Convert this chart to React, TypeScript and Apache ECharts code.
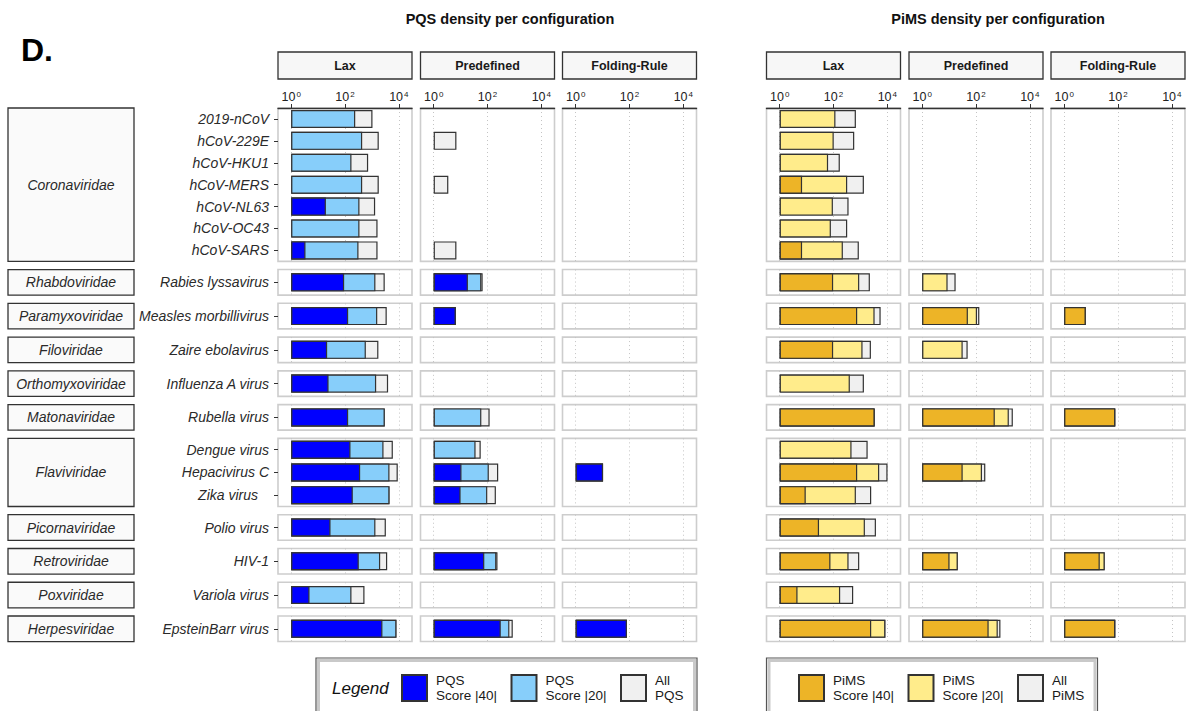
import React, { useEffect, useRef } from 'react';
import * as echarts from 'echarts';

// ---- data ----------------------------------------------------------------
const FAMILIES = [
  'Coronaviridae', 'Rhabdoviridae', 'Paramyxoviridae', 'Filoviridae', 'Orthomyxoviridae',
  'Matonaviridae', 'Flaviviridae', 'Picornaviridae', 'Retroviridae', 'Poxviridae', 'Herpesviridae',
];
const FAMILY_SIZES = [7, 1, 1, 1, 1, 1, 3, 1, 1, 1, 1];
const VIRUSES = [
  '2019-nCoV', 'hCoV-229E', 'hCoV-HKU1', 'hCoV-MERS', 'hCoV-NL63', 'hCoV-OC43', 'hCoV-SARS',
  'Rabies lyssavirus', 'Measles morbillivirus', 'Zaire ebolavirus', 'Influenza A virus',
  'Rubella virus', 'Dengue virus', 'Hepacivirus C', 'Zika virus', 'Polio virus', 'HIV-1',
  'Variola virus', 'EpsteinBarr virus',
];
const CONFIGS = ['Lax', 'Predefined', 'Folding-Rule'];
const TICK_VALUES = [1, 100, 10000];

// PQS density, one value per virus (null = none found)
const pqsLaxAll = [1050, 1800, 725, 1800, 1320, 1620, 1620, 3000, 3560, 1740, 4000, 3000, 6000, 9150, 4500, 3300, 3700, 530, 8150];
const pqsLax20 = [240, 435, 174, 435, 345, 345, 317, 1350, 1580, 595, 1440, 3000, 2700, 4500, 4500, 1350, 2030, 174, 8150];
const pqsLax40 = [null, null, null, null, 19.5, null, 3.4, 93, 131, 21.7, 24.5, 131, 160, 366, 195, 29, 325, 4.8, 2460];

const pqsPreAll = [null, 7, null, 3.5, null, null, 7, 66, 6.6, null, null, 120, 56, 250, 205, null, 235, null, 870];
const pqsPre20 = [null, null, null, null, null, null, null, 59, 6.6, null, null, 59, 36, 112, 98, null, 213, null, 650];
const pqsPre40 = [null, null, null, null, null, null, null, 18.7, 6.6, null, null, null, null, 10.8, 10, null, 76, null, 311];

const pqsFoldAll = [null, null, null, null, null, null, null, null, null, null, null, null, null, 10.4, null, null, null, null, 80];
const pqsFold20 = [null, null, null, null, null, null, null, null, null, null, null, null, null, 10.4, null, null, null, null, 80];
const pqsFold40 = [null, null, null, null, null, null, null, null, null, null, null, null, null, 10.4, null, null, null, null, 80];

// PiMS density
const pimsLaxAll = [680, 590, 172, 1350, 363, 323, 875, 2250, 5650, 2460, 1350, 3370, 1860, 10200, 2520, 3780, 905, 540, 8450];
const pimsLax20 = [118, 102, 63, 323, 95, 80, 223, 905, 3370, 1200, 405, 3370, 468, 5000, 680, 1470, 363, 177, 8450];
const pimsLax40 = [null, null, null, 6.8, null, null, 6.8, 97, 760, 97, null, 3370, null, 760, 9.3, 29, 77, 4.6, 2520];

const pimsPreAll = [null, null, null, null, null, null, null, 17.5, 133, 49, null, 2340, null, 222, null, null, 21, null, 810];
const pimsPre20 = [null, null, null, null, null, null, null, 8.8, 109, 32, null, 1660, null, 167, null, null, 21, null, 645];
const pimsPre40 = [null, null, null, null, null, null, null, null, 50, null, null, 500, null, 32, null, null, 10.4, null, 295];

const pimsFoldAll = [null, null, null, null, null, null, null, null, 6.3, null, null, 79, null, null, null, null, 32, null, 79];
const pimsFold20 = [null, null, null, null, null, null, null, null, 6.3, null, null, 79, null, null, null, null, 32, null, 79];
const pimsFold40 = [null, null, null, null, null, null, null, null, 6.3, null, null, 79, null, null, null, null, 21, null, 79];

// ---- layout / style ------------------------------------------------------
const FONT = '"Liberation Sans", Arial, Helvetica, sans-serif';
const PANEL_W = 134;
const TOP0 = 108;
const ROW_UNIT = 21.3;
const ROW_GAP = 8.2;
const LOG_MIN = Math.pow(10, -0.49);
const LOG_MAX = Math.pow(10, 4.49);

const MOTIFS = [
  {
    title: 'PQS density per configuration',
    titleX: 510,
    cols: [278, 420.5, 562.5],
    names: ['All PQS', 'PQS Score |20|', 'PQS Score |40|'],
    colors: ['#F0F0F0', '#87CEFA', '#0000FF'],
    data: [
      [pqsLaxAll, pqsLax20, pqsLax40],
      [pqsPreAll, pqsPre20, pqsPre40],
      [pqsFoldAll, pqsFold20, pqsFold40],
    ],
    legendBox: [316, 381],
    legendLeft: 401,
  },
  {
    title: 'PiMS density per configuration',
    titleX: 998,
    cols: [766.5, 909, 1051],
    names: ['All PiMS', 'PiMS Score |20|', 'PiMS Score |40|'],
    colors: ['#F0F0F0', '#FFEC8B', '#EDB427'],
    data: [
      [pimsLaxAll, pimsLax20, pimsLax40],
      [pimsPreAll, pimsPre20, pimsPre40],
      [pimsFoldAll, pimsFold20, pimsFold40],
    ],
    legendBox: [766.5, 331],
    legendLeft: 798,
  },
];

function buildOption() {
  // panel rows, heights proportional to the number of viruses in the family
  const rowTop: number[] = [];
  const rowH: number[] = [];
  const rowStart: number[] = [];
  let y = TOP0;
  let idx = 0;
  FAMILY_SIZES.forEach((n) => {
    const h = (n + 0.2) * ROW_UNIT;
    rowTop.push(y);
    rowH.push(h);
    rowStart.push(idx);
    y += h + ROW_GAP;
    idx += n;
  });

  const grid: any[] = [];
  const xAxis: any[] = [];
  const yAxis: any[] = [];
  const series: any[] = [];
  const graphic: any[] = [];

  MOTIFS.forEach((m, mi) => {
    m.cols.forEach((colX, ci) => {
      FAMILIES.forEach((fam, fi) => {
        const gi = grid.length;
        const first = fi === 0;
        const labelled = mi === 0 && ci === 0;
        const cats = VIRUSES.slice(rowStart[fi], rowStart[fi] + FAMILY_SIZES[fi]);
        grid.push({
          left: colX,
          top: rowTop[fi],
          width: PANEL_W,
          height: rowH[fi],
          show: true,
          borderColor: '#CDCDCD',
          borderWidth: 1.6,
          backgroundColor: 'rgba(0,0,0,0)',
        });
        xAxis.push({
          gridIndex: gi,
          type: 'log',
          logBase: 10,
          min: LOG_MIN,
          max: LOG_MAX,
          position: 'top',
          axisLine: { show: first, onZero: false, lineStyle: { color: '#333', width: 1.4 } },
          axisTick: {
            show: first,
            customValues: TICK_VALUES,
            length: 4,
            lineStyle: { color: '#333', width: 1 },
          },
          axisLabel: {
            show: first,
            customValues: TICK_VALUES,
            margin: 5,
            formatter: (v: number) => `{b|10}{s|${Math.round(Math.log10(v))}}`,
            rich: {
              b: { fontSize: 12.5, color: '#222', fontFamily: FONT },
              s: { fontSize: 8, color: '#222', fontFamily: FONT, verticalAlign: 'top', padding: [0, 0, 0, 1] },
            },
          },
          splitLine: { show: true, lineStyle: { color: '#C4C4C4', type: [1, 3], width: 1 } },
        });
        yAxis.push({
          gridIndex: gi,
          type: 'category',
          data: cats,
          inverse: true,
          axisLine: { show: false },
          axisTick: {
            show: labelled,
            alignWithLabel: true,
            length: 4,
            lineStyle: { color: '#333', width: 1 },
          },
          axisLabel: {
            show: labelled,
            margin: 9,
            fontStyle: 'italic',
            fontSize: 14,
            color: '#2a2a2a',
            fontFamily: FONT,
            formatter: (v: string) => (v === 'Zika virus' ? `{pad|${v}}` : v),
            rich: {
              pad: {
                fontStyle: 'italic',
                fontSize: 14,
                color: '#2a2a2a',
                fontFamily: FONT,
                padding: [0, 11, 0, 0],
              },
            },
          },
          splitLine: { show: false },
        });
        // All, |20| and |40| bars overlaid from 10^0, largest first
        m.data[ci].forEach((arr, si) => {
          series.push({
            type: 'bar',
            name: m.names[si],
            xAxisIndex: gi,
            yAxisIndex: gi,
            data: arr.slice(rowStart[fi], rowStart[fi] + FAMILY_SIZES[fi]),
            barWidth: 18,
            barGap: '-100%',
            silent: true,
            itemStyle: { color: m.colors[si], borderColor: '#333', borderWidth: 1.2 },
          });
        });
      });

      // column strip
      graphic.push({
        type: 'rect',
        shape: { x: colX, y: 52, width: PANEL_W, height: 27 },
        style: { fill: '#F7F7F7', stroke: '#333', lineWidth: 1.3 },
        z: 1,
      });
      graphic.push({
        type: 'text',
        x: colX + PANEL_W / 2,
        y: 65.5,
        style: {
          text: CONFIGS[ci],
          font: `bold 12.5px ${FONT}`,
          fill: '#1a1a1a',
          textAlign: 'center',
          textVerticalAlign: 'middle',
        },
        z: 2,
      });
    });

    graphic.push({
      type: 'text',
      x: m.titleX,
      y: 19,
      style: {
        text: m.title,
        font: `bold 14.5px ${FONT}`,
        fill: '#111',
        textAlign: 'center',
        textVerticalAlign: 'middle',
      },
    });

    // legend frame
    const [bx, bw] = m.legendBox;
    graphic.push({
      type: 'rect',
      shape: { x: bx, y: 658, width: bw, height: 62 },
      style: { fill: '#FFFFFF', stroke: '#555', lineWidth: 1.2 },
      z: 0,
    });
    graphic.push({
      type: 'rect',
      shape: { x: bx + 2.5, y: 660.5, width: bw - 5, height: 60 },
      style: { fill: '#FFFFFF', stroke: '#C9C9C9', lineWidth: 3 },
      z: 0,
    });
  });

  graphic.push({
    type: 'text',
    x: 332,
    y: 688,
    style: {
      text: 'Legend',
      font: `italic 17px ${FONT}`,
      fill: '#111',
      textAlign: 'left',
      textVerticalAlign: 'middle',
    },
    z: 2,
  });

  // family strips on the left
  FAMILIES.forEach((fam, fi) => {
    graphic.push({
      type: 'rect',
      shape: { x: 8, y: rowTop[fi], width: 126, height: rowH[fi] },
      style: { fill: '#FAFAFA', stroke: '#333', lineWidth: 1.3 },
      z: 1,
    });
    graphic.push({
      type: 'text',
      x: 71,
      y: rowTop[fi] + rowH[fi] / 2,
      style: {
        text: fam,
        font: `italic 14px ${FONT}`,
        fill: '#2a2a2a',
        textAlign: 'center',
        textVerticalAlign: 'middle',
      },
      z: 2,
    });
  });

  graphic.push({
    type: 'text',
    x: 21,
    y: 50,
    style: {
      text: 'D.',
      font: `bold 32px ${FONT}`,
      fill: '#000',
      textAlign: 'left',
      textVerticalAlign: 'middle',
    },
  });

  const legend = MOTIFS.map((m) => ({
    left: m.legendLeft,
    top: 673,
    padding: 0,
    orient: 'horizontal',
    icon: 'rect',
    itemWidth: 25,
    itemHeight: 26,
    itemGap: 6.5,
    selectedMode: false,
    data: [m.names[2], m.names[1], m.names[0]],
    formatter: (name: string) => name.replace(' ', '\n'),
    textStyle: {
      fontSize: 13.5,
      lineHeight: 15,
      color: '#1a1a1a',
      fontFamily: FONT,
      width: 68,
      padding: [0, 0, 0, 4],
    },
    z: 5,
  }));

  return {
    animation: false,
    backgroundColor: '#FFFFFF',
    grid,
    xAxis,
    yAxis,
    series,
    legend,
    graphic,
  };
}

export default function App() {
  const ref = useRef<HTMLDivElement>(null);
  useEffect(() => {
    if (!ref.current) return;
    const chart = echarts.init(ref.current, null, { renderer: 'svg' });
    chart.setOption(buildOption() as any);
    return () => chart.dispose();
  }, []);
  return (
    <div
      ref={ref}
      style={{ position: 'fixed', left: 0, top: 0, width: 1187, height: 711, background: '#fff' }}
    />
  );
}
